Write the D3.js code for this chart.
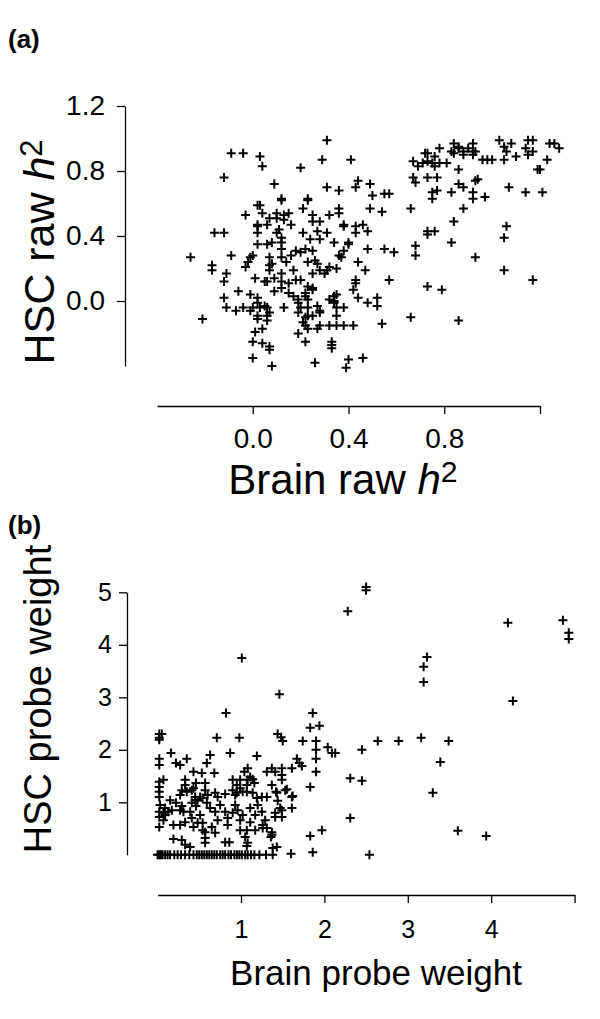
<!DOCTYPE html>
<html>
<head>
<meta charset="utf-8">
<script src="https://cdn.jsdelivr.net/npm/d3@7"></script>
<style>
  body { margin: 0; background: #fff; }
  svg { display: block; font-family: "Liberation Sans", Arial, Helvetica, sans-serif; }
  .domain, .tick line { stroke: #000; stroke-width: 1.3; }
  .pt { stroke: #000; stroke-width: 2; fill: none; }
</style>
</head>
<body>
<div id="container"></div>
<script>
// ---- data ----
// (a) raw heritability, brain (x) vs HSC (y)
var rawH2 = [
  [-0.12,0.76],[-0.09,0.91],[-0.04,0.91],[0.03,0.89],[0.04,0.83],[0.09,0.72],[0.12,0.63],[0.03,0.59],[0.2,0.82],
  [0.31,0.99],[0.29,0.87],[0.41,0.87],[0.31,0.7],[0.36,0.68],[0.43,0.7],[0.44,0.74],[0.49,0.72],[0.5,0.65],
  [0.55,0.66],[0.57,0.66],[0.23,0.63],[0.36,0.57],[0.49,0.57],[0.66,0.57],[0.88,0.57],[0.54,0.55],[0.84,0.49],
  [0.46,0.47],[0.48,0.43],[0.73,0.43],[0.76,0.43],[0.73,0.41],[1.06,0.46],[1.05,0.39],[0.68,0.34],[0.68,0.28],
  [0.48,0.32],[0.55,0.32],[0.59,0.3],[0.83,0.36],[0.93,0.27],[0.47,0.19],[1.05,0.19],[0.57,0.13],[1.17,0.13],
  [0.73,0.09],[0.79,0.07],[0.48,-0.01],[0.52,0.02],[0.52,-0.03],[0.66,-0.1],[0.54,-0.14],[0.86,-0.12],
  [0.67,0.86],[0.69,0.83],[0.71,0.85],[0.72,0.91],[0.73,0.91],[0.73,0.86],[0.75,0.85],[0.76,0.89],[0.76,0.83],
  [0.78,0.94],[0.78,0.85],[0.81,0.85],[0.83,0.92],[0.84,0.97],[0.84,0.91],[0.86,0.95],[0.86,0.94],[0.88,0.9],
  [0.88,0.92],[0.9,0.94],[0.92,0.97],[0.92,0.92],[0.92,0.9],[0.93,0.92],[0.96,0.87],[0.98,0.87],[1.0,0.87],
  [1.03,0.99],[1.05,0.95],[1.05,0.87],[1.06,0.92],[1.08,0.97],[1.1,0.89],[1.14,0.94],[1.15,0.99],[1.15,0.9],
  [1.17,0.99],[1.17,0.92],[1.19,0.81],[1.2,0.81],[1.23,0.87],[1.24,0.97],[1.26,0.97],[1.28,0.94],[0.86,0.81],
  [0.67,0.76],[0.68,0.73],[0.73,0.76],[0.77,0.76],[0.75,0.67],[0.75,0.63],[0.77,0.68],[0.83,0.67],[0.86,0.72],
  [0.88,0.7],[0.92,0.67],[0.92,0.63],[0.93,0.74],[0.94,0.75],[0.97,0.64],[1.07,0.7],[1.14,0.67],[1.21,0.67],
  [0.02,0.59],[0.12,0.62],[0.23,0.62],[0.21,0.57],[-0.03,0.53],[0.04,0.54],[0.07,0.51],[0.1,0.54],[0.1,0.51],
  [0.13,0.53],[0.13,0.5],[0.15,0.54],[0.25,0.53],[0.32,0.53],[0.36,0.54],[0.02,0.47],[0.02,0.46],[0.02,0.42],
  [0.06,0.47],[0.16,0.47],[0.25,0.49],[0.28,0.49],[0.38,0.47],[0.38,0.46],[0.43,0.46],[0.43,0.42],[-0.16,0.42],
  [-0.12,0.42],[0.1,0.42],[0.11,0.44],[0.12,0.39],[0.12,0.36],[0.21,0.42],[0.27,0.43],[0.31,0.42],[0.24,0.38],
  [0.28,0.38],[0.02,0.35],[0.06,0.35],[0.08,0.36],[0.12,0.32],[0.34,0.36],[0.4,0.36],[0.4,0.35],[0.38,0.31],
  [-0.26,0.27],[-0.09,0.28],[0.0,0.28],[-0.01,0.27],[-0.02,0.24],[0.07,0.27],[0.07,0.22],[0.12,0.27],[0.14,0.24],
  [0.16,0.28],[0.18,0.31],[0.2,0.3],[0.22,0.32],[0.25,0.31],[0.23,0.24],[0.26,0.25],[0.27,0.23],[0.37,0.27],
  [0.36,0.28],[0.44,0.24],[-0.17,0.22],[-0.17,0.19],[-0.11,0.17],[-0.03,0.21],[0.07,0.19],[0.08,0.23],[0.12,0.17],
  [0.17,0.19],[0.25,0.17],[0.28,0.19],[0.3,0.17],[0.31,0.19],[0.32,0.21],[0.35,0.2],[-0.12,0.12],[0.01,0.14],
  [0.05,0.12],[0.06,0.12],[0.09,0.14],[0.12,0.12],[0.15,0.11],[0.18,0.13],[0.2,0.13],[0.23,0.09],[0.25,0.08],
  [0.25,0.07],[0.09,0.06],[0.12,0.08],[0.43,0.13],[0.43,0.11],[0.42,0.07],[-0.06,0.06],[-0.01,0.04],[0.02,0.02],
  [0.15,0.05],[0.17,0.03],[0.19,0.01],[0.22,0.05],[0.23,0.01],[0.22,0.03],[0.34,0.03],[0.35,0.04],[0.32,0.01],
  [0.34,0.0],[0.44,0.02],[-0.12,0.02],[-0.11,-0.04],[-0.07,-0.06],[-0.04,-0.04],[-0.01,-0.06],[0.0,-0.04],
  [0.02,-0.01],[0.03,-0.04],[0.05,-0.03],[0.06,-0.04],[0.07,-0.07],[0.13,-0.04],[0.19,-0.01],[0.2,-0.04],
  [0.23,-0.04],[0.27,-0.03],[0.28,-0.06],[0.34,-0.01],[0.35,-0.04],[0.38,-0.04],[0.35,-0.09],[0.19,-0.07],
  [0.22,-0.1],[0.23,-0.09],[0.25,-0.09],[0.28,-0.07],[0.02,-0.09],[0.06,-0.09],[0.06,-0.12],[-0.21,-0.11],
  [0.02,-0.11],[0.21,-0.13],[0.22,-0.15],[0.23,-0.17],[0.28,-0.15],[0.27,-0.17],[0.32,-0.15],[0.35,-0.15],
  [0.38,-0.15],[0.42,-0.15],[0.01,-0.19],[0.04,-0.17],[0.19,-0.2],[0.0,-0.25],[0.04,-0.26],[0.07,-0.28],
  [0.07,-0.3],[0.22,-0.25],[0.33,-0.25],[0.33,-0.27],[0.33,-0.29],[0.0,-0.35],[0.08,-0.4],[0.26,-0.38],
  [0.39,-0.41],[0.4,-0.36],[0.46,-0.35]
];

// (b) probe weights, brain (x) vs HSC (y)
var probeWeight = [
  [2.28,4.64],[2.5,5.1],[2.5,5.04],[1.01,3.75],[1.46,3.06],[0.82,2.7],[1.86,2.7],[4.2,4.42],[4.86,4.47],
  [4.93,4.23],[4.93,4.11],[3.23,3.77],[3.19,3.58],[3.19,3.29],[4.26,2.93],[2.64,2.17],[2.89,2.17],[3.16,2.23],
  [3.49,2.17],[2.45,2.0],[2.09,1.94],[2.13,1.94],[3.39,1.77],[2.31,1.46],[2.45,1.41],[3.3,1.18],[2.31,0.7],
  [3.6,0.46],[3.94,0.36],[2.54,0.0],[1.83,2.42],[1.94,2.46],
  [0.02,2.3],[0.05,2.3],[0.02,2.23],[0.02,2.19],[0.71,2.23],[0.98,2.23],[1.44,2.3],[1.48,2.24],[1.5,2.17],
  [1.74,2.17],[1.9,2.17],[1.9,2.0],[1.9,1.83],[1.9,1.58],[2.04,2.05],[0.16,1.94],[0.02,1.83],[0.02,1.71],
  [0.22,1.75],[0.27,1.71],[0.35,1.83],[0.63,1.9],[0.59,1.75],[0.87,1.94],[1.19,1.88],[1.04,1.58],[1.08,1.65],
  [1.31,1.58],[1.37,1.65],[1.41,1.58],[1.49,1.65],[1.49,1.52],[1.49,1.43],[1.61,1.65],[1.67,1.83],[1.7,1.75],
  [1.73,1.69],[0.43,1.58],[0.53,1.56],[0.68,1.56],[1.83,1.29],[0.02,1.39],[0.07,1.43],[0.02,1.29],[0.02,1.2],
  [0.02,1.1],[0.33,1.43],[0.33,1.33],[0.46,1.37],[0.57,1.37],[0.57,1.23],[0.9,1.43],[0.95,1.33],[0.99,1.43],
  [1.07,1.33],[1.14,1.44],[1.16,1.37],[1.42,1.2],[1.53,1.23],[1.61,1.1],[0.27,1.14],[0.35,1.2],[0.41,1.23],
  [0.45,1.1],[0.51,1.1],[0.6,1.14],[0.69,1.18],[0.72,1.1],[0.81,1.16],[0.9,1.23],[0.93,1.14],[0.95,1.18],
  [0.99,1.27],[1.02,1.2],[1.07,1.2],[1.14,1.18],[1.19,1.08],[1.25,1.1],[1.31,1.1],[1.44,1.03],[1.61,0.89],
  [1.47,0.89],[1.49,0.72],[0.03,0.95],[0.09,0.89],[0.02,0.82],[0.09,0.76],[0.17,0.85],[0.27,0.85],[0.31,0.82],
  [0.41,0.99],[0.45,1.04],[0.48,1.04],[0.54,1.08],[0.59,0.99],[0.29,1.23],[0.43,1.27],[1.08,1.43],[1.11,1.48],
  [1.37,1.33],[1.55,1.25],[1.43,1.18],[1.62,1.12],
  [0.07,0.8],[0.13,0.82],[0.02,0.72],[0.07,0.66],[0.02,0.53],[0.19,0.57],[0.27,0.57],[0.33,0.62],[0.41,0.7],
  [0.43,0.53],[0.54,0.61],[0.54,0.47],[0.57,0.43],[0.65,0.53],[0.69,0.42],[0.99,0.66],[0.9,0.8],[1.07,0.47],
  [0.99,0.47],[1.26,0.57],[1.31,0.51],[1.37,0.43],[1.41,0.8],[1.41,0.72],[1.49,0.85],[1.37,0.38],[1.83,0.36],
  [1.97,0.47],[0.19,0.3],[0.29,0.28],[0.33,0.19],[0.39,0.15],[0.57,0.32],[0.57,0.23],[0.81,0.24],[1.07,0.17],
  [1.08,0.23],[1.43,0.15],[0.86,0.24],[1.05,0.34],[1.36,0.34],[1.26,0.51],[1.38,0.13],[1.86,0.05],[1.6,0.02],
  [0.15,1.04],[0.22,0.99],[0.29,0.93],[0.39,0.82],[0.46,0.93],[0.51,0.76],[0.63,0.89],[0.69,0.82],[0.75,0.95],
  [0.81,0.82],[0.84,0.7],[0.93,0.95],[0.96,0.85],[1.02,0.76],[1.11,0.89],[1.17,0.76],[1.2,0.95],[1.25,0.82],
  [1.29,0.66],[0.84,0.57],[0.72,0.66],[0.48,0.61],[1.11,0.62],[1.17,0.47],
  [0.0,0],[0.02,0],[0.04,0],[0.06,0],[0.09,0],[0.12,0],[0.15,0],[0.2,0],[0.24,0],[0.28,0],[0.33,0],[0.38,0],
  [0.43,0],[0.47,0],[0.5,0],[0.53,0],[0.56,0],[0.59,0],[0.62,0],[0.65,0],[0.68,0],[0.71,0],[0.75,0],[0.78,0],
  [0.81,0],[0.85,0],[0.88,0],[0.92,0],[0.95,0],[0.98,0],[1.01,0],[1.05,0],[1.08,0],[1.12,0],[1.16,0],[1.22,0],
  [1.3,0],[1.38,0]
];

// ---- ticks ----
var rawTicks = [0, 0.4, 0.8, 1.2];
var rawXLabels = ["0.0", "0.4", "0.8", ""];
var rawYLabels = ["0.0", "0.4", "0.8", "1.2"];
var weightTicks = [1, 2, 3, 4, 5];
var weightXLabels = ["1", "2", "3", "4", ""];
var weightYLabels = ["1", "2", "3", "4", "5"];

var svg = d3.select("#container").append("svg")
	.attr("width", 600)
	.attr("height", 1019);

svg.append("rect").attr("width", 600).attr("height", 1019).attr("fill", "#fff");

var cross = "M-4.5,0H4.5M0,-4.5V4.5";

function drawPanel( p )
{
	var x = d3.scaleLinear().domain(p.xDomain).range(p.xRange);
	var y = d3.scaleLinear().domain(p.yDomain).range(p.yRange);

	var xAxis = d3.axisBottom(x)
		.tickValues(p.xTicks)
		.tickSizeInner(8)
		.tickSizeOuter(0)
		.tickPadding(p.xPad)
		.tickFormat((d,i) => p.xLabels[i]);

	var yAxis = d3.axisLeft(y)
		.tickValues(p.yTicks)
		.tickSizeInner(8)
		.tickSizeOuter(0)
		.tickPadding(p.yPad)
		.tickFormat((d,i) => p.yLabels[i]);

	svg.append("g")
		.attr("transform", "translate(0," + p.xAxisY + ")")
		.call(xAxis)
		.call(g => g.selectAll("text").attr("font-size", p.tickFont).attr("fill", "#000").attr("font-family", null));

	svg.append("g")
		.attr("transform", "translate(" + p.yAxisX + ",0)")
		.call(yAxis)
		.call(g => g.selectAll("text").attr("font-size", p.tickFont).attr("fill", "#000").attr("font-family", null));

	svg.append("g")
		.selectAll("path")
		.data(p.points)
		.enter().append("path")
		.attr("class", "pt")
		.attr("d", cross)
		.attr("transform", d => "translate(" + x(d[0]) + "," + y(d[1]) + ")");

	// panel letter
	svg.append("text")
		.attr("x", 8)
		.attr("y", p.letterY)
		.attr("font-size", 26)
		.attr("font-weight", "bold")
		.text(p.letter);

	// x title
	var xt = svg.append("text")
		.attr("x", p.xTitleX)
		.attr("y", p.xTitleY)
		.attr("text-anchor", "middle")
		.attr("font-size", p.titleFont);
	addTitle(xt, p.title[0], p.title[1]);

	// y title
	var yt = svg.append("text")
		.attr("transform", "translate(" + p.yTitleX + "," + p.yTitleY + ") rotate(-90)")
		.attr("text-anchor", "middle")
		.attr("font-size", p.yTitleFont);
	addTitle(yt, p.title[2], p.title[3]);
}

function addTitle( t, main, h2 )
{
	t.append("tspan").text(main);
	if( h2 )
	{
		t.append("tspan").attr("font-style", "italic").text(" h");
		t.append("tspan").attr("font-size", "0.72em").attr("dy", "-0.4em").text("2");
	}
}

drawPanel({
	letter: "(a)", letterY: 48,
	points: rawH2,
	xDomain: [-0.4, 1.2], xRange: [157, 540],
	yDomain: [-0.4, 1.2], yRange: [366, 106],
	xTicks: rawTicks, xLabels: rawXLabels,
	yTicks: rawTicks, yLabels: rawYLabels,
	xAxisY: 406, yAxisX: 125,
	xPad: 14, yPad: 12, tickFont: 28,
	titleFont: 42, yTitleFont: 43,
	title: ["Brain raw", true, "HSC raw", true],
	xTitleX: 343, xTitleY: 494,
	yTitleX: 54, yTitleY: 252
});

drawPanel({
	letter: "(b)", letterY: 534,
	points: probeWeight,
	xDomain: [0, 5], xRange: [157.6, 574.6],
	yDomain: [0, 5], yRange: [854.8, 592.3],
	xTicks: weightTicks, xLabels: weightXLabels,
	yTicks: weightTicks, yLabels: weightYLabels,
	xAxisY: 895, yAxisX: 127,
	xPad: 17, yPad: 7, tickFont: 25,
	titleFont: 35, yTitleFont: 38,
	title: ["Brain probe weight", false, "HSC probe weight", false],
	xTitleX: 376, xTitleY: 985,
	yTitleX: 51, yTitleY: 699
});
</script>
</body>
</html>
